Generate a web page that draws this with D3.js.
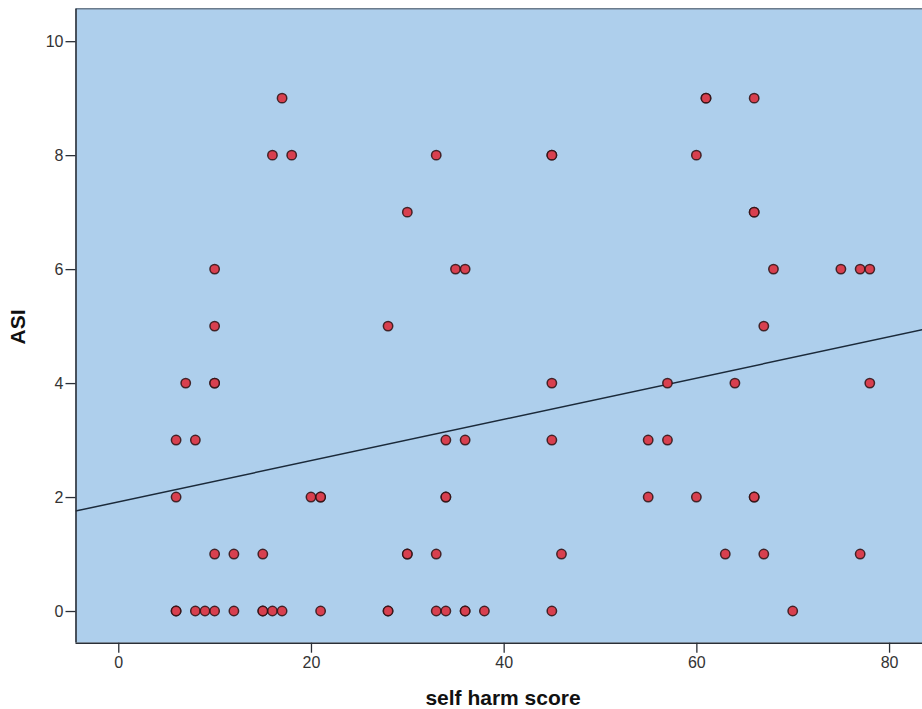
<!DOCTYPE html>
<html>
<head>
<meta charset="utf-8">
<script src="https://cdn.jsdelivr.net/npm/d3@7"></script>
<style>
  html, body { margin: 0; padding: 0; background: #ffffff; }
  svg { display: block; }
  text { font-family: "Liberation Sans", Arial, sans-serif; }
</style>
</head>
<body>
<svg id="chart" width="922" height="709"></svg>
<script>
// ---- data ----
const selfHarmScore = [
  6, 8, 9, 10, 12, 15, 15, 16, 17, 21, 28, 28, 33, 34, 36, 36, 38, 45, 70, 6,
  10, 12, 15, 30, 30, 33, 46, 63, 67, 77,
  6, 20, 21, 21, 34, 34, 55, 60, 66, 66,
  6, 8, 34, 36, 45, 55, 57,
  7, 10, 10, 45, 57, 64, 78,
  10, 28, 67,
  10, 35, 36, 68, 75, 77, 78,
  30, 66, 66,
  16, 18, 33, 45, 45, 60,
  17, 61, 61, 66
];
const asiScore = [
  0, 0, 0, 0, 0, 0, 0, 0, 0, 0, 0, 0, 0, 0, 0, 0, 0, 0, 0, 0,
  1, 1, 1, 1, 1, 1, 1, 1, 1, 1,
  2, 2, 2, 2, 2, 2, 2, 2, 2, 2,
  3, 3, 3, 3, 3, 3, 3,
  4, 4, 4, 4, 4, 4, 4,
  5, 5, 5,
  6, 6, 6, 6, 6, 6, 6,
  7, 7, 7,
  8, 8, 8, 8, 8, 8,
  9, 9, 9, 9
];
const xTicks = [0, 20, 40, 60, 80];
const yTicks = [0, 2, 4, 6, 8, 10];
const fitIntercept = 1.915;
const fitSlope = 0.0362;
const xTitle = "self harm score";
const yTitle = "ASI";

// ---- layout ----
const svg = d3.select("#chart");
const plotLeft = 75.5, plotTop = 8.7, plotBottom = 642.7, plotRight = 927.6;
const x = d3.scaleLinear().domain([-4.44, 84]).range([plotLeft, plotRight]);
const y = d3.scaleLinear().domain([-0.556, 10.57]).range([plotBottom, plotTop]);

svg.append("defs").append("clipPath").attr("id", "plotclip")
  .append("rect").attr("x", plotLeft).attr("y", plotTop)
  .attr("width", 922 - plotLeft).attr("height", plotBottom - plotTop);

// plot background
svg.append("rect")
  .attr("x", plotLeft).attr("y", plotTop)
  .attr("width", 922 - plotLeft + 5).attr("height", plotBottom - plotTop)
  .attr("fill", "#aecfec");

// top frame line
svg.append("line")
  .attr("x1", plotLeft).attr("x2", 922).attr("y1", plotTop).attr("y2", plotTop)
  .attr("stroke", "#6b7b8c").attr("stroke-width", 1.5);

const plot = svg.append("g").attr("clip-path", "url(#plotclip)");

// regression line
const xd = x.domain();
plot.append("line")
  .attr("x1", x(xd[0])).attr("y1", y(fitIntercept + fitSlope * xd[0]))
  .attr("x2", x(xd[1])).attr("y2", y(fitIntercept + fitSlope * xd[1]))
  .attr("stroke", "#1b2a3a").attr("stroke-width", 1.5);

// points
const pts = selfHarmScore.map((v, i) => ({ sx: v, sy: asiScore[i] }));
plot.selectAll("circle.pt").data(pts).enter().append("circle")
  .attr("class", "pt")
  .attr("cx", d => x(d.sx))
  .attr("cy", d => y(d.sy))
  .attr("r", 4.7)
  .attr("fill", "#d8404f")
  .attr("stroke", "#2e1214")
  .attr("stroke-width", 1.5)
  .attr("stroke-opacity", 0.85);

// axes
const axColor = "#2a2f36";
const xAxis = svg.append("g")
  .attr("transform", `translate(0,${plotBottom})`)
  .call(d3.axisBottom(x).tickValues(xTicks).tickSize(10).tickPadding(4).tickSizeOuter(0));
const yAxis = svg.append("g")
  .attr("transform", `translate(${plotLeft},0)`)
  .call(d3.axisLeft(y).tickValues(yTicks).tickSize(10).tickPadding(2).tickSizeOuter(0));

[xAxis, yAxis].forEach(g => {
  g.select(".domain").attr("stroke", axColor).attr("stroke-width", 1.6);
  g.selectAll(".tick line").attr("stroke", axColor).attr("stroke-width", 1.3);
  g.selectAll(".tick text")
    .attr("fill", "#333333")
    .style("font-size", "16px")
    .style("font-family", "'Liberation Sans', Arial, sans-serif");
});
xAxis.select(".domain").attr("d", `M${plotLeft},0.5H922`);
yAxis.select(".domain").attr("d", `M0.5,${plotTop}V${plotBottom - 0.2}`);

// titles
svg.append("text")
  .attr("x", 503).attr("y", 705)
  .attr("text-anchor", "middle")
  .style("font-size", "21px").style("font-weight", "bold")
  .attr("fill", "#111111")
  .text(xTitle);

svg.append("text")
  .attr("transform", "translate(25,327) rotate(-90)")
  .attr("text-anchor", "middle")
  .style("font-size", "21px").style("font-weight", "bold")
  .attr("fill", "#111111")
  .text(yTitle);
</script>
</body>
</html>
